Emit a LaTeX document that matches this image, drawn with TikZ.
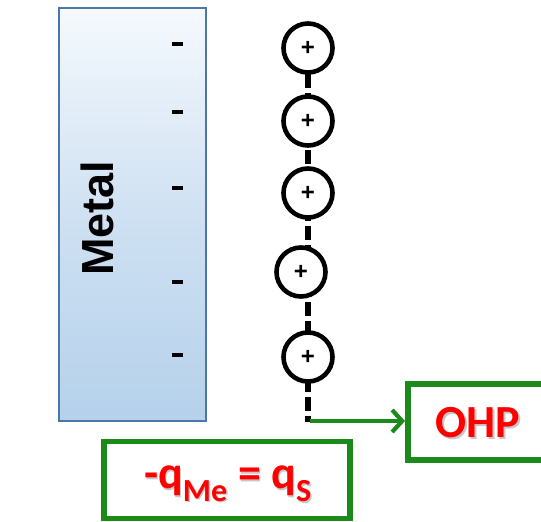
\documentclass[tikz,border=0pt]{standalone}
\usepackage{fontspec}
\setmainfont{Carlito}
\newfontfamily\arialfont{Liberation Sans}
\usetikzlibrary{arrows.meta}
\definecolor{metalborder}{HTML}{4A77A8}
\definecolor{mtop}{HTML}{F5F9FD}
\definecolor{mmid}{HTML}{CFE1F2}
\definecolor{mbot}{HTML}{B5D1EB}
\definecolor{boxgreen}{HTML}{1B8A1B}
\definecolor{txtred}{HTML}{FF0000}
\tikzset{
  ion/.style={circle, draw=black, line width=4.6pt, fill=white, minimum size=49pt, inner sep=0pt},
  plustxt/.style={font=\arialfont\bfseries\fontsize{24}{24}\selectfont},
  minus/.style={line width=3.5pt, black},
  gbox/.style={draw=boxgreen, line width=5.5pt, fill=white},
  redtxt/.style={text=txtred, font=\bfseries\fontsize{46}{46}\selectfont},
  shadowtxt/.style={text=black!22, font=\bfseries\fontsize{46}{46}\selectfont},
}
\begin{document}
\begin{tikzpicture}[x=1pt,y=-1pt]
\useasboundingbox (0,0) rectangle (541,522);
% metal slab
\shade[top color=mtop, bottom color=mbot, middle color=mmid] (59,8) rectangle (206,421);
\draw[metalborder, line width=2.4pt] (59,8) rectangle (206,421);
\node[rotate=90, font=\arialfont\bfseries\fontsize{45}{45}\selectfont] (metal) at (97,218) {Metal};
% negative charges
\foreach \y [count=\i] in {44,112,188,282,355} {
  \coordinate (m\i) at (177,\y);
  \draw[minus] ([xshift=-5.5pt]m\i) -- ([xshift=5.5pt]m\i);
}
% dashed line (OHP)
\coordinate (top) at (308,74);
\coordinate (ohpend) at (308,422);
\draw[line width=5.5pt, dash pattern=on 14pt off 5pt] (top) -- (ohpend);
% ions
\foreach \n/\x/\y in {c1/308/48, c2/308/121, c3/308/193, c4/301/272, c5/308/357} {
  \node[ion] (\n) at (\x,\y) {};
  \node[plustxt] at (\n) {+};
}
% OHP box
\node[gbox, minimum width=150pt, minimum height=76pt, anchor=west] (ohp) at (405,422) {};
\node[shadowtxt] at (479.5,424.5) {OHP};
\node[redtxt] (ohptxt) at (478,423) {OHP};
% arrow
\coordinate (astart) at (310,421);
\draw[boxgreen, line width=4.2pt, -{Straight Barb[length=10pt, width=22pt, line width=4.2pt]}] (astart) -- (ohp.west |- astart);
% charge box
\node[gbox, minimum width=246pt, minimum height=77pt] (qbox) at (227,480) {};
\node[shadowtxt] at (229.5,485.5) {-q\textsubscript{Me} = q\textsubscript{S}};
\node[redtxt] (qtxt) at (228,484) {-q\textsubscript{Me} = q\textsubscript{S}};
\end{tikzpicture}
\end{document}
